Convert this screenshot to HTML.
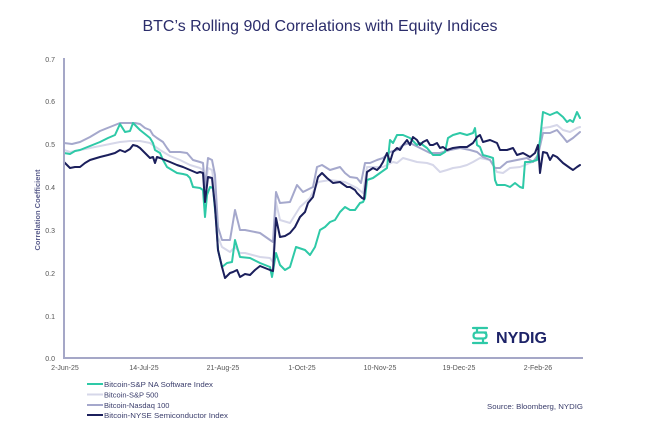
<!DOCTYPE html>
<html><head><meta charset="utf-8"><style>
html,body{margin:0;padding:0;background:#fff;}
svg{display:block;}
text{font-family:"Liberation Sans",sans-serif;}
</style></head><body>
<svg width="670" height="445" viewBox="0 0 670 445" xmlns="http://www.w3.org/2000/svg">
<rect width="670" height="445" fill="#fff"/>
<text x="320" y="31" text-anchor="middle" font-size="16" fill="#2b2d6b" textLength="355" lengthAdjust="spacingAndGlyphs">BTC’s Rolling 90d Correlations with Equity Indices</text>

<g font-size="7" fill="#555" text-anchor="end">
<text x="55" y="62">0.7</text>
<text x="55" y="104">0.6</text>
<text x="55" y="147">0.5</text>
<text x="55" y="190">0.4</text>
<text x="55" y="233">0.3</text>
<text x="55" y="276">0.2</text>
<text x="55" y="319">0.1</text>
<text x="55" y="361">0.0</text>
</g>
<text transform="translate(40,210) rotate(-90)" text-anchor="middle" font-size="7" font-weight="bold" fill="#5a5d8c" textLength="81" lengthAdjust="spacingAndGlyphs">Correlation Coefficient</text>

<g font-size="7" fill="#555" text-anchor="middle">
<text x="65" y="370">2-Jun-25</text>
<text x="144" y="370">14-Jul-25</text>
<text x="223" y="370">21-Aug-25</text>
<text x="302" y="370">1-Oct-25</text>
<text x="380" y="370">10-Nov-25</text>
<text x="459" y="370">19-Dec-25</text>
<text x="538" y="370">2-Feb-26</text>
</g>

<g fill="none" stroke-width="2" stroke-linejoin="round" stroke-linecap="round">
<polyline stroke="#d6d7e9" points="64,150 70,152 80,150 90,148 100,146 110,144 120,142 130,141 140,141 150,143 160,150 170,156 180,160 190,165 200,168 203,170 205,190 208,168 212,170 215,190 218,237 222,247 230,252 235,247 240,253 245,253 260,257 270,258 273,262 276,202 280,220 290,223 300,207 310,198 318,182 330,180 345,182 357,188 363,193 367,167 380,167 383,167 393,162 397,163 403,158 410,160 417,162 427,163 433,165 440,172 447,170 453,168 460,167 467,165 473,162 480,158 490,160 497,172 503,173 510,168 520,167 530,163 537,160 543,128 550,127 557,125 563,130 570,132 577,128 580,127"/>
<polyline stroke="#a5a8cc" points="64,143 72,144 80,142 90,137 100,131 110,127 120,123 128,123 135,123 140,124 145,128 150,130 153,135 157,138 163,142 167,148 170,152 180,152 187,153 193,160 200,162 203,163 205,187 208,158 212,160 215,175 218,227 222,240 230,240 235,210 240,230 245,230 260,233 270,240 273,242 276,192 280,203 290,202 297,185 303,192 313,187 317,167 322,165 330,170 340,167 345,173 350,177 357,178 361,183 365,163 370,163 377,160 383,158 390,152 397,150 403,145 410,143 420,148 430,153 440,153 450,150 460,148 470,150 477,152 483,157 490,160 495,168 500,168 507,162 517,160 527,158 533,162 538,155 543,133 550,133 557,130 563,137 567,142 573,138 580,132"/>
<polyline stroke="#2ec9a7" points="64,153 70,154 75,151 80,150 90,146 100,142 108,138 115,135 120,124 125,132 130,131 133,123 137,127 140,130 145,134 150,138 153,143 155,150 160,153 163,160 167,167 172,170 177,173 183,174 187,175 190,178 193,187 200,188 203,190 205,217 207,195 210,187 213,188 216,220 218,250 222,267 227,263 232,262 235,240 240,257 250,258 260,263 270,267 272,277 276,253 280,265 285,270 290,267 296,247 305,250 310,255 315,247 320,230 325,227 330,222 335,220 340,212 345,207 350,210 355,210 360,203 363,202 365,198 367,180 373,178 380,173 387,168 390,140 393,143 397,135 403,135 410,138 417,145 420,143 427,148 433,155 440,155 445,152 448,138 453,135 460,133 467,135 473,133 475,128 477,145 480,147 483,155 490,157 493,158 495,180 497,185 505,185 510,187 515,183 520,187 523,188 525,162 530,162 537,160 540,140 543,112 550,115 557,112 563,117 567,122 570,120 573,122 577,112 580,118"/>
<polyline stroke="#1b1f5c" points="64,162 70,168 75,167 80,167 85,163 90,160 100,157 108,155 115,153 120,150 125,152 130,149 133,145 137,146 140,148 145,153 150,158 153,157 155,163 157,157 160,158 165,160 170,162 177,165 183,167 190,170 197,173 200,172 203,173 205,202 208,177 212,178 215,207 218,250 222,267 225,278 230,273 233,272 237,270 240,277 245,274 250,275 255,270 260,266 265,268 270,270 273,271 276,218 280,237 285,236 290,233 295,227 300,217 305,212 308,203 313,197 318,177 322,173 327,178 333,183 340,182 347,187 350,187 355,190 357,193 362,198 364,199 367,172 373,168 377,170 380,167 383,162 387,153 390,162 393,152 397,148 400,150 403,145 407,140 410,145 413,137 417,140 420,145 423,142 427,140 430,145 433,145 437,143 440,148 443,147 447,150 453,148 460,147 467,147 473,143 477,137 480,135 483,142 490,140 497,143 500,150 507,150 513,148 517,155 523,153 530,157 535,153 538,145 540,173 543,152 547,153 550,160 553,155 557,157 563,163 570,168 573,170 577,167 580,165"/>
</g>

<g stroke="#a5a7c7" stroke-width="2" fill="none">
<line x1="64" y1="58" x2="64" y2="359"/>
<line x1="63" y1="358" x2="583" y2="358"/>
</g>

<!-- NYDIG logo -->
<g fill="none" stroke="#2ec9a7" stroke-width="2.2" stroke-linecap="round" stroke-linejoin="round">
<path d="M473,328 H487"/>
<path d="M477,328 V331"/>
<path d="M486,332.5 H476.5 Q473.5,332.5 473.5,335.5 Q473.5,338.5 476.5,338.5 H483.5 Q486.5,338.5 486.5,335.5 Q486.5,333 484,332.5"/>
<path d="M483,340 V343"/>
<path d="M473,343 H487"/>
</g>
<text x="496" y="343" font-size="16" font-weight="bold" fill="#1d2368" textLength="51" lengthAdjust="spacingAndGlyphs">NYDIG</text>

<!-- legend -->
<g stroke-width="2">
<line x1="87" y1="384" x2="103" y2="384" stroke="#2ec9a7"/>
<line x1="87" y1="394.5" x2="103" y2="394.5" stroke="#d6d7e9"/>
<line x1="87" y1="405" x2="103" y2="405" stroke="#a5a8cc"/>
<line x1="87" y1="415" x2="103" y2="415" stroke="#1b1f5c"/>
</g>
<g font-size="7.5" fill="#3a3d6b">
<text x="104" y="387" textLength="109" lengthAdjust="spacingAndGlyphs">Bitcoin-S&amp;P NA Software Index</text>
<text x="104" y="397.5">Bitcoin-S&amp;P 500</text>
<text x="104" y="408">Bitcoin-Nasdaq 100</text>
<text x="104" y="418" textLength="124" lengthAdjust="spacingAndGlyphs">Bitcoin-NYSE Semiconductor Index</text>
</g>
<text x="583" y="409" font-size="7.5" fill="#3a3d6b" text-anchor="end" textLength="96" lengthAdjust="spacingAndGlyphs">Source: Bloomberg, NYDIG</text>
</svg>
</body></html>
